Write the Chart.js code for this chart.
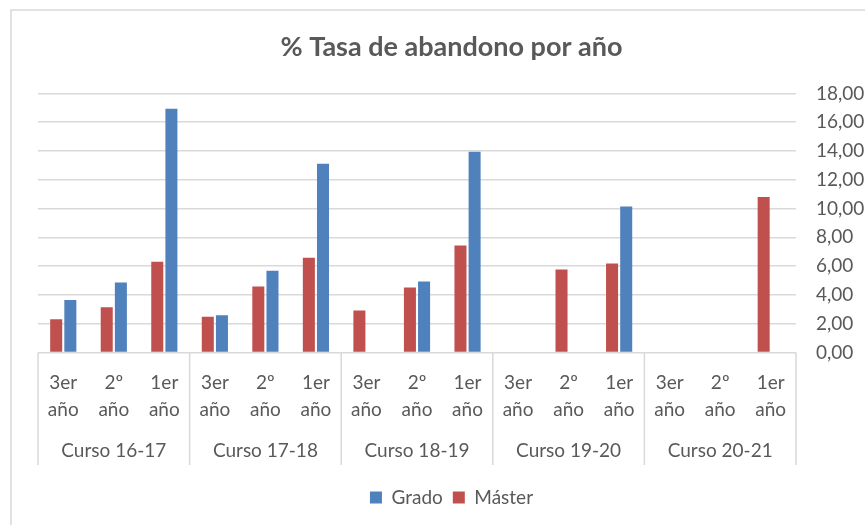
<!DOCTYPE html>
<html lang="es">
<head>
<meta charset="utf-8">
<title>% Tasa de abandono por año</title>
<script src="https://cdn.jsdelivr.net/npm/chart.js@4/dist/chart.umd.min.js"></script>
<style>
  html, body { margin: 0; padding: 0; background: #fff; }
  #wrap { width: 865px; height: 525px; }
</style>
</head>
<body>
<div id="wrap"><canvas id="abandono"></canvas></div>
<script>
// Datos: tasa de abandono (%) por curso académico y año de estudio
const cursos = ["Curso 16-17", "Curso 17-18", "Curso 18-19", "Curso 19-20", "Curso 20-21"];
const anios = [["3er", "año"], ["2º", "año"], ["1er", "año"]];
const master = [2.31, 3.14, 6.30, 2.49, 4.59, 6.58, 2.91, 4.52, 7.43, null, 5.77, 6.18, null, null, 10.80];
const grado = [3.65, 4.87, 16.94, 2.58, 5.68, 13.11, null, 4.94, 13.94, null, null, 10.15, null, null, null];
const yTicks = [0, 2, 4, 6, 8, 10, 12, 14, 16, 18];

const categorias = [];
cursos.forEach(() => anios.forEach(a => categorias.push(a)));

const gris = "#595959";
const linea = "#d9d9d9";
const fuente = "Lato, 'Open Sans', sans-serif";

// Marco exterior y separadores de grupo del eje de categorías
const marcoPlugin = {
  id: "marco",
  beforeDraw(chart) {
    const ctx = chart.ctx;
    ctx.save();
    ctx.fillStyle = "#fff";
    ctx.fillRect(0, 0, chart.width, chart.height);
    ctx.strokeStyle = linea;
    ctx.lineWidth = 1.5;
    ctx.strokeRect(11, 10, chart.width + 20, chart.height + 20);
    ctx.restore();
  },
  afterDraw(chart) {
    const x = chart.scales.x;
    const g = chart.scales.xGrupo;
    const ctx = chart.ctx;
    const paso = x.getPixelForValue(1) - x.getPixelForValue(0);
    ctx.save();
    ctx.strokeStyle = linea;
    ctx.lineWidth = 1.5;
    ctx.beginPath();
    for (let i = 0; i <= cursos.length; i++) {
      const px = x.getPixelForValue(i * anios.length) - paso / 2;
      ctx.moveTo(px, chart.chartArea.bottom);
      ctx.lineTo(px, g.bottom - 13);
    }
    ctx.stroke();
    ctx.restore();
  }
};

new Chart(document.getElementById("abandono"), {
  type: "bar",
  data: {
    labels: categorias,
    datasets: [
      {
        label: "Máster",
        data: master,
        backgroundColor: "#c0504d",
        categoryPercentage: 0.56,
        barPercentage: 0.85
      },
      {
        label: "Grado",
        data: grado,
        backgroundColor: "#4f81bd",
        categoryPercentage: 0.56,
        barPercentage: 0.85
      }
    ]
  },
  options: {
    responsive: true,
    maintainAspectRatio: false,
    animation: false,
    layout: { padding: { left: 38, right: 0, top: 0, bottom: 8 } },
    plugins: {
      title: {
        display: true,
        text: "% Tasa de abandono por año",
        color: gris,
        font: { family: fuente, size: 27, weight: "bold" },
        padding: { top: 31, bottom: 30 }
      },
      legend: {
        position: "bottom",
        reverse: true,
        labels: {
          color: gris,
          font: { family: fuente, size: 19 },
          boxWidth: 12,
          boxHeight: 12,
          padding: 10
        }
      },
      tooltip: { enabled: false }
    },
    scales: {
      x: {
        position: "bottom",
        grid: { display: false, drawTicks: false },
        border: { display: false },
        ticks: {
          color: gris,
          font: { family: fuente, size: 19, lineHeight: 1.42 },
          padding: 17,
          autoSkip: false,
          maxRotation: 0,
          minRotation: 0
        },
        afterFit: s => { s.height = 84.5; }
      },
      xGrupo: {
        type: "category",
        position: "bottom",
        labels: cursos,
        offset: true,
        grid: { display: false, drawTicks: false },
        border: { display: false },
        ticks: {
          color: gris,
          font: { family: fuente, size: 19 },
          padding: 2,
          autoSkip: false,
          maxRotation: 0
        },
        afterFit: s => { s.height = 41; }
      },
      y: {
        position: "right",
        min: 0,
        max: 18,
        afterBuildTicks: s => { s.ticks = yTicks.map(v => ({ value: v })); },
        grid: { color: linea, lineWidth: 1.5, drawTicks: false },
        border: { display: false },
        ticks: {
          color: gris,
          font: { family: fuente, size: 19 },
          padding: 20,
          callback: v => v.toFixed(2).replace(".", ",")
        },
        afterFit: s => { s.width = 69; }
      }
    }
  },
  plugins: [marcoPlugin]
});
</script>
</body>
</html>
